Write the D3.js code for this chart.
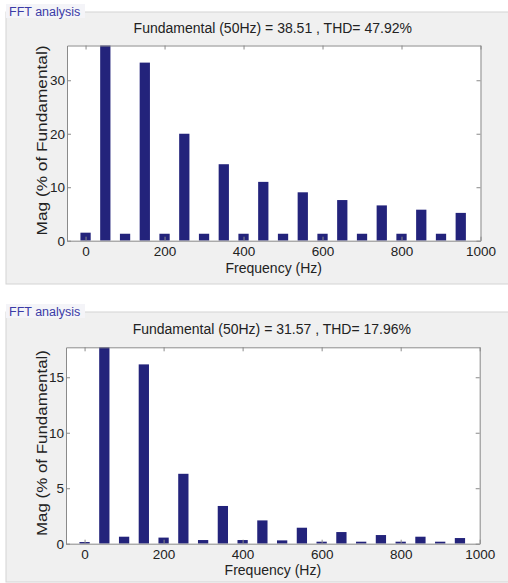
<!DOCTYPE html>
<html><head><meta charset="utf-8">
<script src="https://cdn.jsdelivr.net/npm/d3@7"></script>
<style>
body{margin:0;background:#fff;}
svg{display:block;font-family:"Liberation Sans",Arial,sans-serif;}
</style></head>
<body>
<script>
const frequencies = [0,50,100,150,200,250,300,350,400,450,500,550,600,650,700,750,800,850,900,950];
const magTop = [1.5,100,1.3,33.3,1.3,20.0,1.3,14.3,1.3,11.0,1.3,9.05,1.3,7.6,1.3,6.6,1.3,5.8,1.3,5.2];
const magBottom = [0.15,100,0.63,16.16,0.55,6.3,0.33,3.4,0.33,2.1,0.3,1.44,0.18,1.05,0.18,0.78,0.18,0.63,0.18,0.51];
const xTickValues = [0,200,400,600,800,1000];
const yTicksTop = [0,10,20,30];
const yTicksBottom = [0,5,10,15];
const yMaxTop = 36.5, yMaxBottom = 17.7;
const titleTop = "Fundamental (50Hz) = 38.51 , THD= 47.92%";
const titleBottom = "Fundamental (50Hz) = 31.57 , THD= 17.96%";
const panelLabel = "FFT analysis";
const xLabel = "Frequency (Hz)";
const yLabel = "Mag (% of Fundamental)";

const W = 508, H = 583;
const svg = d3.select("body").append("svg").attr("width", W).attr("height", H);

function drawPanel(cfg){
  const g = svg.append("g");
  g.append("rect").attr("x", 6).attr("y", cfg.panelTop).attr("width", W + 10).attr("height", cfg.panelBottom - cfg.panelTop)
    .attr("fill", "#f0f0f0").attr("stroke", "#d4d4d4").attr("stroke-width", 1);
  g.append("rect").attr("x", 6).attr("y", cfg.panelTop - 8).attr("width", 79).attr("height", 14).attr("fill", "#f4f4f8");
  g.append("text").attr("x", 9).attr("y", cfg.panelTop + 4).text(panelLabel)
    .attr("fill", "#3b3ba6").attr("font-size", 12.5);

  const x = d3.scaleLinear().domain([-47, 1000]).range([cfg.left, cfg.right]);
  const y = d3.scaleLinear().domain([0, cfg.yMax]).range([cfg.bottom, cfg.top]);

  g.append("rect").attr("x", cfg.left).attr("y", cfg.top).attr("width", cfg.right - cfg.left).attr("height", cfg.bottom - cfg.top)
    .attr("fill", "#fff");

  const clipId = "clip" + cfg.id;
  svg.append("clipPath").attr("id", clipId).append("rect")
    .attr("x", cfg.left).attr("y", cfg.top).attr("width", cfg.right - cfg.left).attr("height", cfg.bottom - cfg.top);

  const bw = x(26) - x(0);
  g.append("g").attr("clip-path", `url(#${clipId})`).selectAll("rect").data(cfg.values).join("rect")
    .attr("x", (d, i) => x(frequencies[i]) - bw / 2)
    .attr("y", d => y(d))
    .attr("width", bw)
    .attr("height", d => y(0) - y(d))
    .attr("fill", "#23237b");

  const axisColor = "#8a8a8a";
  const style = sel => {
    sel.select(".domain").attr("stroke", axisColor);
    sel.selectAll(".tick line").attr("stroke", axisColor);
    sel.selectAll(".tick text").attr("fill", "#222").attr("font-size", 13.5).attr("font-family", "Liberation Sans, Arial, sans-serif");
  };
  g.append("g").attr("transform", `translate(0,${cfg.bottom})`)
    .call(d3.axisBottom(x).tickValues(xTickValues).tickSizeInner(-4).tickSizeOuter(0).tickPadding(6).tickFormat(d3.format("d")))
    .call(style);
  g.append("g").attr("transform", `translate(0,${cfg.top})`)
    .call(d3.axisTop(x).tickValues(xTickValues).tickSizeInner(-4).tickSizeOuter(0).tickFormat(""))
    .call(style);
  g.append("g").attr("transform", `translate(${cfg.left},0)`)
    .call(d3.axisLeft(y).tickValues(cfg.yTicks).tickSizeInner(-4).tickSizeOuter(0).tickPadding(2).tickFormat(d3.format("d")))
    .call(style);
  g.append("g").attr("transform", `translate(${cfg.right},0)`)
    .call(d3.axisRight(y).tickValues(cfg.yTicks).tickSizeInner(-4).tickSizeOuter(0).tickFormat(""))
    .call(style);

  g.append("text").attr("x", (cfg.left + cfg.right) / 2 - 1).attr("y", cfg.titleY).attr("text-anchor", "middle")
    .attr("font-size", 14).attr("fill", "#222").text(cfg.title);
  g.append("text").attr("x", (cfg.left + cfg.right) / 2).attr("y", cfg.xLabelY).attr("text-anchor", "middle")
    .attr("font-size", 14).attr("fill", "#222").text(xLabel);
  g.append("text").attr("transform", `translate(46.5,${cfg.yLabelMid}) rotate(-90)`).attr("text-anchor", "middle")
    .attr("font-size", 15).attr("fill", "#222")
    .attr("textLength", cfg.yLabelLen).attr("lengthAdjust", "spacingAndGlyphs").text(yLabel);
}

drawPanel({id: 1, panelTop: 12, panelBottom: 284, left: 67, right: 480.5, top: 45.5, bottom: 240.7,
  yMax: yMaxTop, yTicks: yTicksTop, values: magTop, title: titleTop, titleY: 33, xLabelY: 273,
  yLabelMid: 140.5, yLabelLen: 190});
drawPanel({id: 2, panelTop: 312, panelBottom: 582, left: 66, right: 479.7, top: 347.3, bottom: 543.7,
  yMax: yMaxBottom, yTicks: yTicksBottom, values: magBottom, title: titleBottom, titleY: 334, xLabelY: 575,
  yLabelMid: 443, yLabelLen: 186});
</script>
</body></html>
